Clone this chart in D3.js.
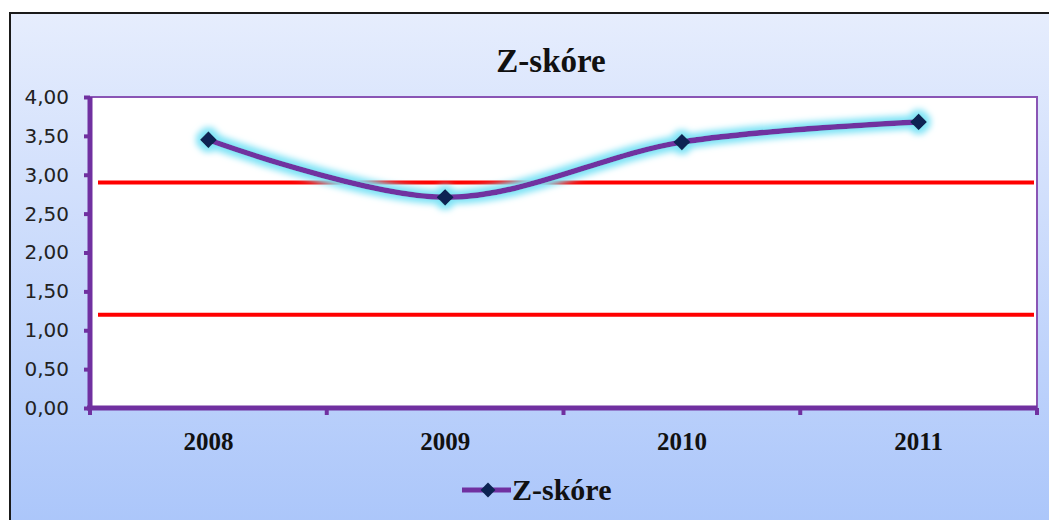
<!DOCTYPE html>
<html>
<head>
<meta charset="utf-8">
<script src="https://cdn.jsdelivr.net/npm/d3@7/dist/d3.min.js"></script>
<style>
  html, body { margin: 0; padding: 0; background: #ffffff; }
  svg { display: block; }
</style>
</head>
<body>
<svg id="chart" width="1049" height="520"></svg>
<script>
// Altman Z-score by year
const years = ["2008", "2009", "2010", "2011"];
const zScore = [3.45, 2.71, 3.42, 3.68];
// zone boundaries (grey zone between 1.2 and 2.9)
const thresholds = [2.9, 1.2];
const yTicks = [0, 0.5, 1, 1.5, 2, 2.5, 3, 3.5, 4];
const seriesName = "Z-skóre";
const chartTitle = "Z-skóre";

const svg = d3.select("#chart");
const W = 1049, H = 520;
const purple = "#7030a0";

const defs = svg.append("defs");
const grad = defs.append("linearGradient")
  .attr("id", "bg").attr("x1", 0).attr("y1", 0).attr("x2", 0).attr("y2", 1);
grad.append("stop").attr("offset", "0%").attr("stop-color", "#e6edfd");
grad.append("stop").attr("offset", "100%").attr("stop-color", "#a8c4fa");

// soft cyan halo around the series
const glow = defs.append("filter").attr("id", "glow")
  .attr("x", "-20%").attr("y", "-50%").attr("width", "140%").attr("height", "200%");
glow.append("feMorphology").attr("in", "SourceAlpha").attr("operator", "dilate")
  .attr("radius", 4).attr("result", "thick");
glow.append("feGaussianBlur").attr("in", "thick").attr("stdDeviation", 3).attr("result", "blur");
glow.append("feFlood").attr("flood-color", "#7fe3f6").attr("flood-opacity", 1);
glow.append("feComposite").attr("in2", "blur").attr("operator", "in").attr("result", "halo");
const merge = glow.append("feMerge");
merge.append("feMergeNode").attr("in", "halo");
merge.append("feMergeNode").attr("in", "SourceGraphic");

// chart area
svg.append("rect")
  .attr("x", 10).attr("y", 13).attr("width", W + 20).attr("height", H + 20)
  .attr("fill", "url(#bg)").attr("stroke", "#1a1a1a").attr("stroke-width", 2);

const plot = { left: 90, right: 1037, top: 97, bottom: 408 };

const x = d3.scaleBand().domain(years).range([plot.left, plot.right]).paddingInner(0).paddingOuter(0);
const y = d3.scaleLinear().domain([0, 4]).range([plot.bottom, plot.top]);

// plot area
svg.append("rect")
  .attr("x", plot.left).attr("y", plot.top)
  .attr("width", plot.right - plot.left).attr("height", plot.bottom - plot.top)
  .attr("fill", "#ffffff").attr("stroke", "#8a55b5").attr("stroke-width", 2);

// threshold lines
svg.append("g").selectAll("line").data(thresholds).join("line")
  .attr("x1", plot.left + 8).attr("x2", plot.right - 3)
  .attr("y1", d => y(d)).attr("y2", d => y(d))
  .attr("stroke", "#ff0000").attr("stroke-width", 4);

// y axis
const yAxis = svg.append("g").attr("transform", `translate(${plot.left},0)`)
  .call(d3.axisLeft(y).tickValues(yTicks).tickSize(6).tickPadding(15)
    .tickFormat(d => d3.format(".2f")(d).replace(".", ",")));
yAxis.select(".domain").attr("stroke", purple).attr("stroke-width", 5)
  .attr("d", `M0,${plot.top}V${plot.bottom + 2}`);
yAxis.selectAll(".tick line").attr("stroke", purple).attr("stroke-width", 4);
yAxis.selectAll(".tick text")
  .attr("font-family", "DejaVu Sans, Verdana, sans-serif").attr("font-size", 20)
  .attr("fill", "#222");

// x axis
const xAxis = svg.append("g").attr("transform", `translate(0,${plot.bottom})`)
  .call(d3.axisBottom(x).tickSize(0).tickPadding(24));
xAxis.select(".domain").attr("stroke", purple).attr("stroke-width", 5)
  .attr("d", `M${plot.left - 3},0H${plot.right}`);
xAxis.selectAll(".tick text")
  .attr("font-family", "Liberation Serif, Times New Roman, serif")
  .attr("font-weight", "bold").attr("font-size", 25).attr("fill", "#111");
// category boundary ticks
const bounds = years.map(d => x(d)).concat([plot.right]);
xAxis.append("g").selectAll("line").data(bounds).join("line")
  .attr("x1", d => d).attr("x2", d => d).attr("y1", 0).attr("y2", 7)
  .attr("stroke", purple).attr("stroke-width", 4);

// series
const cx = d => x(d) + x.bandwidth() / 2;
const pts = years.map((d, i) => [cx(d), y(zScore[i])]);
const series = svg.append("g").attr("filter", "url(#glow)");
series.append("path")
  .attr("d", d3.line().curve(d3.curveCardinal.tension(0))(pts))
  .attr("fill", "none").attr("stroke", purple).attr("stroke-width", 5.5);
const diamond = d3.symbol().type(d3.symbolDiamond2).size(180);
series.selectAll(".m").data(pts).join("path").attr("class", "m")
  .attr("transform", d => `translate(${d[0]},${d[1]})`)
  .attr("d", diamond).attr("fill", "#0c2352");

// title
svg.append("text").attr("x", 551).attr("y", 72).attr("text-anchor", "middle")
  .attr("font-family", "Liberation Serif, Times New Roman, serif")
  .attr("font-weight", "bold").attr("font-size", 33).attr("fill", "#111")
  .text(chartTitle);

// legend
const lg = svg.append("g").attr("transform", "translate(462,490)");
lg.append("line").attr("x1", 0).attr("x2", 49).attr("y1", 0).attr("y2", 0)
  .attr("stroke", purple).attr("stroke-width", 5);
lg.append("path").attr("transform", "translate(26,0)")
  .attr("d", d3.symbol().type(d3.symbolDiamond2).size(140)).attr("fill", "#0c2352");
lg.append("text").attr("x", 50).attr("y", 10)
  .attr("font-family", "Liberation Serif, Times New Roman, serif")
  .attr("font-weight", "bold").attr("font-size", 30).attr("fill", "#111")
  .text(seriesName);
</script>
</body>
</html>
